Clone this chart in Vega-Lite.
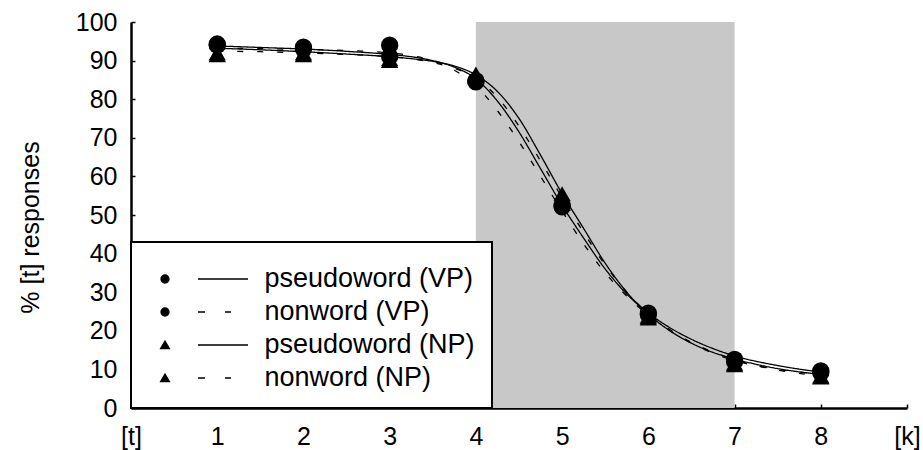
{
  "$schema": "https://vega.github.io/schema/vega-lite/v6.json",
  "width": 776,
  "height": 386,
  "autosize": {"type": "none"},
  "padding": {"left": 131, "top": 22, "right": 16, "bottom": 42},
  "background": "white",
  "config": {
    "view": {"stroke": null},
    "font": "Liberation Sans"
  },
  "datasets": {
    "region": [{"step": 4, "step_end": 7, "pct": 0, "pct_end": 100}],
    "points": [
      {"step": 1, "pct": 94.3, "series": "pseudoword (VP)", "marker": "circle"},
      {"step": 2, "pct": 93.0, "series": "pseudoword (VP)", "marker": "circle"},
      {"step": 3, "pct": 91.0, "series": "pseudoword (VP)", "marker": "circle"},
      {"step": 4, "pct": 84.8, "series": "pseudoword (VP)", "marker": "circle"},
      {"step": 5, "pct": 52.1, "series": "pseudoword (VP)", "marker": "circle"},
      {"step": 6, "pct": 24.6, "series": "pseudoword (VP)", "marker": "circle"},
      {"step": 7, "pct": 12.0, "series": "pseudoword (VP)", "marker": "circle"},
      {"step": 8, "pct": 9.1, "series": "pseudoword (VP)", "marker": "circle"},
      {"step": 1, "pct": 94.0, "series": "nonword (VP)", "marker": "circle"},
      {"step": 2, "pct": 93.5, "series": "nonword (VP)", "marker": "circle"},
      {"step": 3, "pct": 94.0, "series": "nonword (VP)", "marker": "circle"},
      {"step": 4, "pct": 84.5, "series": "nonword (VP)", "marker": "circle"},
      {"step": 5, "pct": 52.5, "series": "nonword (VP)", "marker": "circle"},
      {"step": 6, "pct": 24.2, "series": "nonword (VP)", "marker": "circle"},
      {"step": 7, "pct": 12.6, "series": "nonword (VP)", "marker": "circle"},
      {"step": 8, "pct": 9.6, "series": "nonword (VP)", "marker": "circle"},
      {"step": 1, "pct": 92.0, "series": "pseudoword (NP)", "marker": "triangle"},
      {"step": 2, "pct": 92.0, "series": "pseudoword (NP)", "marker": "triangle"},
      {"step": 3, "pct": 90.5, "series": "pseudoword (NP)", "marker": "triangle"},
      {"step": 4, "pct": 86.5, "series": "pseudoword (NP)", "marker": "triangle"},
      {"step": 5, "pct": 55.5, "series": "pseudoword (NP)", "marker": "triangle"},
      {"step": 6, "pct": 23.3, "series": "pseudoword (NP)", "marker": "triangle"},
      {"step": 7, "pct": 11.2, "series": "pseudoword (NP)", "marker": "triangle"},
      {"step": 8, "pct": 8.0, "series": "pseudoword (NP)", "marker": "triangle"},
      {"step": 1, "pct": 91.5, "series": "nonword (NP)", "marker": "triangle"},
      {"step": 2, "pct": 91.5, "series": "nonword (NP)", "marker": "triangle"},
      {"step": 3, "pct": 90.0, "series": "nonword (NP)", "marker": "triangle"},
      {"step": 4, "pct": 85.8, "series": "nonword (NP)", "marker": "triangle"},
      {"step": 5, "pct": 54.8, "series": "nonword (NP)", "marker": "triangle"},
      {"step": 6, "pct": 23.8, "series": "nonword (NP)", "marker": "triangle"},
      {"step": 7, "pct": 11.6, "series": "nonword (NP)", "marker": "triangle"},
      {"step": 8, "pct": 8.3, "series": "nonword (NP)", "marker": "triangle"}
    ],
    "curves": [
      {"step": 1, "pct": 93.8, "series": "pseudoword (VP)", "style": "solid"},
      {"step": 1.5, "pct": 93.4, "series": "pseudoword (VP)", "style": "solid"},
      {"step": 2, "pct": 93.0, "series": "pseudoword (VP)", "style": "solid"},
      {"step": 2.5, "pct": 92.4, "series": "pseudoword (VP)", "style": "solid"},
      {"step": 3, "pct": 91.6, "series": "pseudoword (VP)", "style": "solid"},
      {"step": 3.25, "pct": 91.0, "series": "pseudoword (VP)", "style": "solid"},
      {"step": 3.5, "pct": 90.0, "series": "pseudoword (VP)", "style": "solid"},
      {"step": 3.75, "pct": 88.3, "series": "pseudoword (VP)", "style": "solid"},
      {"step": 4, "pct": 85.3, "series": "pseudoword (VP)", "style": "solid"},
      {"step": 4.25, "pct": 79.5, "series": "pseudoword (VP)", "style": "solid"},
      {"step": 4.5, "pct": 71.5, "series": "pseudoword (VP)", "style": "solid"},
      {"step": 4.75, "pct": 62.0, "series": "pseudoword (VP)", "style": "solid"},
      {"step": 5, "pct": 52.5, "series": "pseudoword (VP)", "style": "solid"},
      {"step": 5.25, "pct": 44.0, "series": "pseudoword (VP)", "style": "solid"},
      {"step": 5.5, "pct": 36.0, "series": "pseudoword (VP)", "style": "solid"},
      {"step": 5.75, "pct": 29.5, "series": "pseudoword (VP)", "style": "solid"},
      {"step": 6, "pct": 24.6, "series": "pseudoword (VP)", "style": "solid"},
      {"step": 6.25, "pct": 20.8, "series": "pseudoword (VP)", "style": "solid"},
      {"step": 6.5, "pct": 17.8, "series": "pseudoword (VP)", "style": "solid"},
      {"step": 6.75, "pct": 15.4, "series": "pseudoword (VP)", "style": "solid"},
      {"step": 7, "pct": 13.5, "series": "pseudoword (VP)", "style": "solid"},
      {"step": 7.5, "pct": 11.0, "series": "pseudoword (VP)", "style": "solid"},
      {"step": 8, "pct": 9.3, "series": "pseudoword (VP)", "style": "solid"},
      {"step": 1, "pct": 93.2, "series": "nonword (VP)", "style": "dashed"},
      {"step": 1.5, "pct": 93.1, "series": "nonword (VP)", "style": "dashed"},
      {"step": 2, "pct": 92.9, "series": "nonword (VP)", "style": "dashed"},
      {"step": 2.5, "pct": 92.6, "series": "nonword (VP)", "style": "dashed"},
      {"step": 3, "pct": 92.0, "series": "nonword (VP)", "style": "dashed"},
      {"step": 3.25, "pct": 91.3, "series": "nonword (VP)", "style": "dashed"},
      {"step": 3.5, "pct": 90.0, "series": "nonword (VP)", "style": "dashed"},
      {"step": 3.75, "pct": 87.5, "series": "nonword (VP)", "style": "dashed"},
      {"step": 4, "pct": 83.5, "series": "nonword (VP)", "style": "dashed"},
      {"step": 4.25, "pct": 77.0, "series": "nonword (VP)", "style": "dashed"},
      {"step": 4.5, "pct": 69.0, "series": "nonword (VP)", "style": "dashed"},
      {"step": 4.75, "pct": 60.0, "series": "nonword (VP)", "style": "dashed"},
      {"step": 5, "pct": 51.0, "series": "nonword (VP)", "style": "dashed"},
      {"step": 5.25, "pct": 42.5, "series": "nonword (VP)", "style": "dashed"},
      {"step": 5.5, "pct": 35.0, "series": "nonword (VP)", "style": "dashed"},
      {"step": 5.75, "pct": 29.0, "series": "nonword (VP)", "style": "dashed"},
      {"step": 6, "pct": 24.0, "series": "nonword (VP)", "style": "dashed"},
      {"step": 6.25, "pct": 20.0, "series": "nonword (VP)", "style": "dashed"},
      {"step": 6.5, "pct": 16.8, "series": "nonword (VP)", "style": "dashed"},
      {"step": 6.75, "pct": 14.2, "series": "nonword (VP)", "style": "dashed"},
      {"step": 7, "pct": 12.3, "series": "nonword (VP)", "style": "dashed"},
      {"step": 7.5, "pct": 10.0, "series": "nonword (VP)", "style": "dashed"},
      {"step": 8, "pct": 8.8, "series": "nonword (VP)", "style": "dashed"},
      {"step": 1, "pct": 93.2, "series": "pseudoword (NP)", "style": "solid"},
      {"step": 1.5, "pct": 92.8, "series": "pseudoword (NP)", "style": "solid"},
      {"step": 2, "pct": 92.3, "series": "pseudoword (NP)", "style": "solid"},
      {"step": 2.5, "pct": 91.7, "series": "pseudoword (NP)", "style": "solid"},
      {"step": 3, "pct": 91.0, "series": "pseudoword (NP)", "style": "solid"},
      {"step": 3.25, "pct": 90.5, "series": "pseudoword (NP)", "style": "solid"},
      {"step": 3.5, "pct": 89.8, "series": "pseudoword (NP)", "style": "solid"},
      {"step": 3.75, "pct": 88.6, "series": "pseudoword (NP)", "style": "solid"},
      {"step": 4, "pct": 86.3, "series": "pseudoword (NP)", "style": "solid"},
      {"step": 4.25, "pct": 82.0, "series": "pseudoword (NP)", "style": "solid"},
      {"step": 4.5, "pct": 75.0, "series": "pseudoword (NP)", "style": "solid"},
      {"step": 4.75, "pct": 65.5, "series": "pseudoword (NP)", "style": "solid"},
      {"step": 5, "pct": 55.5, "series": "pseudoword (NP)", "style": "solid"},
      {"step": 5.25, "pct": 46.5, "series": "pseudoword (NP)", "style": "solid"},
      {"step": 5.5, "pct": 37.5, "series": "pseudoword (NP)", "style": "solid"},
      {"step": 5.75, "pct": 30.0, "series": "pseudoword (NP)", "style": "solid"},
      {"step": 6, "pct": 24.3, "series": "pseudoword (NP)", "style": "solid"},
      {"step": 6.25, "pct": 20.0, "series": "pseudoword (NP)", "style": "solid"},
      {"step": 6.5, "pct": 16.8, "series": "pseudoword (NP)", "style": "solid"},
      {"step": 6.75, "pct": 14.4, "series": "pseudoword (NP)", "style": "solid"},
      {"step": 7, "pct": 12.7, "series": "pseudoword (NP)", "style": "solid"},
      {"step": 7.5, "pct": 10.2, "series": "pseudoword (NP)", "style": "solid"},
      {"step": 8, "pct": 8.7, "series": "pseudoword (NP)", "style": "solid"},
      {"step": 1, "pct": 92.4, "series": "nonword (NP)", "style": "dashed"},
      {"step": 1.5, "pct": 92.3, "series": "nonword (NP)", "style": "dashed"},
      {"step": 2, "pct": 92.0, "series": "nonword (NP)", "style": "dashed"},
      {"step": 2.5, "pct": 91.6, "series": "nonword (NP)", "style": "dashed"},
      {"step": 3, "pct": 91.0, "series": "nonword (NP)", "style": "dashed"},
      {"step": 3.25, "pct": 90.5, "series": "nonword (NP)", "style": "dashed"},
      {"step": 3.5, "pct": 89.5, "series": "nonword (NP)", "style": "dashed"},
      {"step": 3.75, "pct": 88.0, "series": "nonword (NP)", "style": "dashed"},
      {"step": 4, "pct": 85.5, "series": "nonword (NP)", "style": "dashed"},
      {"step": 4.25, "pct": 80.5, "series": "nonword (NP)", "style": "dashed"},
      {"step": 4.5, "pct": 73.0, "series": "nonword (NP)", "style": "dashed"},
      {"step": 4.75, "pct": 64.0, "series": "nonword (NP)", "style": "dashed"},
      {"step": 5, "pct": 54.5, "series": "nonword (NP)", "style": "dashed"},
      {"step": 5.25, "pct": 45.5, "series": "nonword (NP)", "style": "dashed"},
      {"step": 5.5, "pct": 37.0, "series": "nonword (NP)", "style": "dashed"},
      {"step": 5.75, "pct": 30.0, "series": "nonword (NP)", "style": "dashed"},
      {"step": 6, "pct": 24.5, "series": "nonword (NP)", "style": "dashed"},
      {"step": 6.25, "pct": 20.3, "series": "nonword (NP)", "style": "dashed"},
      {"step": 6.5, "pct": 17.0, "series": "nonword (NP)", "style": "dashed"},
      {"step": 6.75, "pct": 14.5, "series": "nonword (NP)", "style": "dashed"},
      {"step": 7, "pct": 12.5, "series": "nonword (NP)", "style": "dashed"},
      {"step": 7.5, "pct": 9.8, "series": "nonword (NP)", "style": "dashed"},
      {"step": 8, "pct": 8.3, "series": "nonword (NP)", "style": "dashed"}
    ]
  },
  "encoding": {
    "x": {
      "field": "step",
      "type": "quantitative",
      "scale": {"domain": [0, 9], "nice": false, "zero": false},
      "axis": {
        "title": null,
        "values": [0, 1, 2, 3, 4, 5, 6, 7, 8, 9],
        "format": "d",
        "labelExpr": "datum.value == 0 ? '[t]' : (datum.value == 9 ? '[k]' : datum.label)",
        "grid": false,
        "domainColor": "black",
        "domainWidth": 2.5,
        "tickColor": "black",
        "tickWidth": 1.5,
        "tickSize": -4,
        "labelFontSize": 25,
        "labelColor": "black",
        "labelPadding": 20,
        "labelFlush": false,
        "labelOverlap": false
      }
    },
    "y": {
      "field": "pct",
      "type": "quantitative",
      "scale": {"domain": [0, 100], "nice": false},
      "axis": {
        "title": "% [t] responses",
        "titleFontSize": 25,
        "titleFontWeight": "normal",
        "titleColor": "black",
        "titlePadding": 32,
        "titleY": 205,
        "values": [0, 10, 20, 30, 40, 50, 60, 70, 80, 90, 100],
        "format": "d",
        "grid": false,
        "domainColor": "black",
        "domainWidth": 2.5,
        "tickColor": "black",
        "tickWidth": 1.5,
        "tickSize": -4,
        "labelFontSize": 25,
        "labelColor": "black",
        "labelPadding": 18,
        "labelFlush": false,
        "labelOverlap": false
      }
    }
  },
  "layer": [
    {
      "data": {"name": "region"},
      "mark": {"type": "rect", "fill": "#c8c8c8", "stroke": null},
      "encoding": {
        "x2": {"field": "step_end"},
        "y2": {"field": "pct_end"}
      }
    },
    {
      "data": {"name": "curves"},
      "mark": {"type": "line", "color": "black", "strokeWidth": 1.3, "interpolate": "monotone"},
      "encoding": {
        "detail": {"field": "series"},
        "strokeDash": {
          "field": "style",
          "type": "nominal",
          "scale": {"domain": ["solid", "dashed"], "range": [[1, 0], [6, 14]]},
          "legend": null
        }
      }
    },
    {
      "data": {"name": "points"},
      "mark": {"type": "point", "filled": true, "color": "black", "opacity": 1, "size": 300},
      "encoding": {
        "shape": {
          "field": "marker",
          "type": "nominal",
          "scale": {"domain": ["circle", "triangle"], "range": ["circle", "triangle-up"]},
          "legend": null
        }
      }
    },
    {
      "data": {"name": "points"},
      "mark": {"type": "point", "filled": false, "color": "black", "strokeWidth": 1.3, "opacity": 0, "size": 64},
      "encoding": {
        "shape": {
          "field": "series",
          "type": "nominal",
          "sort": ["pseudoword (VP)", "nonword (VP)", "pseudoword (NP)", "nonword (NP)"],
          "scale": {
            "domain": ["pseudoword (VP)", "nonword (VP)", "pseudoword (NP)", "nonword (NP)"],
            "range": [
              "M0,0A1,1 0 1,0 2,0A1,1 0 1,0 0,0Z M9.25,0L21.75,0",
              "M0,0A1,1 0 1,0 2,0A1,1 0 1,0 0,0Z M9.25,0L11,0 M16,0L17.5,0",
              "M1,-1L2.1,0.9L-0.1,0.9Z M9.25,0L21.75,0",
              "M1,-1L2.1,0.9L-0.1,0.9Z M9.25,0L11,0 M16,0L17.5,0"
            ]
          },
          "legend": {
            "title": " ",
            "titleFontSize": 5,
            "titlePadding": 2,
            "orient": "bottom-left",
            "offset": 0,
            "padding": 16.5,
            "fillColor": "white",
            "strokeColor": "black",
            "cornerRadius": 0,
            "symbolSize": 64,
            "symbolOpacity": 1,
            "symbolFillColor": "black",
            "symbolStrokeColor": "black",
            "symbolStrokeWidth": 1.3,
            "labelFontSize": 27,
            "labelColor": "black",
            "labelOffset": 90,
            "labelLimit": 400,
            "rowPadding": 5,
            "zindex": 2,
            "encoding": {
              "legend": {
                "strokeWidth": {"value": 2}
              },
              "symbols": {
                "fill": {"value": "black"},
                "stroke": {"value": "black"},
                "strokeWidth": {"value": 1.3},
                "opacity": {"value": 1}
              }
            }
          }
        }
      }
    }
  ],
  "resolve": {"scale": {"shape": "independent"}}
}
